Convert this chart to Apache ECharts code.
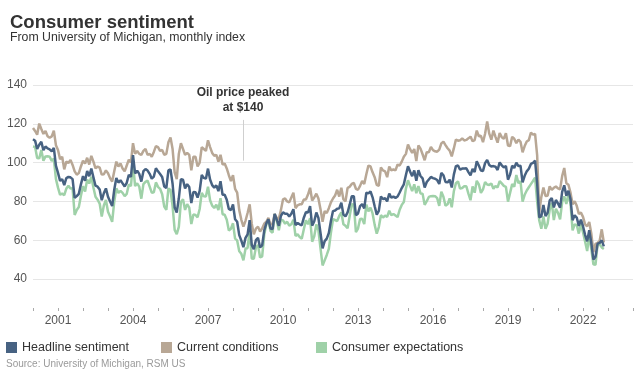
<!DOCTYPE html>
<html>
<head>
<meta charset="utf-8">
<title>Consumer sentiment</title>
<script src="https://cdn.jsdelivr.net/npm/echarts@6/dist/echarts.min.js"></script>
<style>
html, body { margin: 0; padding: 0; background: #fff; }
#chart { width: 639px; height: 377px; }
</style>
</head>
<body>
<div id="chart"></div>
<script>
// monthly index, Jan 2000 .. Nov 2022
const startYear = 2000
const labelYears = [2001, 2004, 2007, 2010, 2013, 2016, 2019, 2022]
const yTicks = [40, 60, 80, 100, 120, 140]
const seriesNames = ['Headline sentiment', 'Current conditions', 'Consumer expectations']

const headline = [
  112.0, 111.3, 107.1, 109.2, 110.7, 106.4, 108.3, 107.3, 106.8, 105.8, 107.6, 98.4,
  94.7, 90.6, 91.5, 88.4, 92.0, 92.6, 92.4, 91.5, 81.8, 82.7, 83.9, 88.8,
  93.0, 90.7, 95.7, 93.0, 96.9, 92.4, 88.1, 87.6, 86.1, 80.6, 84.2, 86.7,
  82.4, 79.9, 77.6, 86.0, 92.1, 89.7, 90.9, 89.3, 87.7, 89.6, 93.7, 92.6,
  103.8, 94.4, 95.8, 94.2, 90.2, 95.6, 96.7, 95.9, 94.2, 91.7, 92.8, 97.1,
  95.5, 94.1, 92.6, 87.7, 86.9, 96.0, 96.5, 89.1, 76.9, 74.2, 81.6, 91.5,
  91.2, 86.7, 88.9, 87.4, 79.1, 84.9, 84.7, 82.0, 85.4, 93.6, 92.1, 91.7,
  96.9, 91.3, 88.4, 87.1, 88.3, 85.3, 90.4, 83.4, 83.4, 80.9, 76.1, 75.5,
  78.4, 70.8, 69.5, 62.6, 59.8, 56.4, 61.2, 63.0, 70.3, 57.6, 55.3, 60.1,
  61.2, 56.3, 57.3, 65.1, 68.7, 70.8, 66.0, 65.7, 73.5, 70.6, 67.4, 72.5,
  74.4, 73.6, 73.6, 72.2, 73.6, 76.0, 67.8, 68.9, 68.2, 67.7, 71.6, 74.5,
  74.2, 77.5, 67.5, 69.8, 74.3, 71.5, 63.7, 55.8, 59.5, 60.8, 63.7, 69.9,
  75.0, 75.3, 76.2, 76.4, 79.3, 73.2, 72.3, 74.3, 78.3, 82.6, 82.7, 72.9,
  73.8, 77.6, 78.6, 76.4, 84.5, 84.1, 85.1, 82.1, 77.5, 73.2, 75.1, 82.5,
  81.2, 81.6, 80.0, 84.1, 81.9, 82.5, 81.8, 82.5, 84.6, 86.9, 88.8, 93.6,
  98.1, 95.4, 93.0, 95.9, 90.7, 96.1, 93.1, 91.9, 87.2, 90.0, 91.3, 92.6,
  92.0, 91.7, 91.0, 89.0, 94.7, 93.5, 90.0, 89.8, 91.2, 87.2, 93.8, 98.2,
  98.5, 96.3, 96.9, 97.0, 97.1, 95.1, 93.4, 96.8, 95.1, 100.7, 98.5, 95.9,
  95.7, 99.7, 101.4, 98.8, 98.0, 98.2, 97.9, 96.2, 100.1, 98.6, 97.5, 98.3,
  91.2, 93.8, 98.4, 97.2, 100.0, 98.2, 98.4, 89.8, 93.2, 95.5, 96.8, 99.3,
  99.8, 101.0, 89.1, 71.8, 72.3, 78.1, 72.5, 74.1, 80.4, 81.8, 76.9, 80.7,
  79.0, 76.8, 84.9, 88.3, 82.9, 85.5, 81.2, 70.3, 72.8, 71.7, 67.4, 70.6,
  67.2, 62.8, 59.4, 65.2, 58.4, 50.0, 51.5, 58.2, 58.6, 59.9, 56.8
]

const current = [
  117.8, 116.3, 114.4, 120.1, 117.3, 114.8, 116.3, 113.6, 112.8, 113.5, 116.4, 109.0,
  106.5, 101.8, 103.0, 96.5, 100.5, 99.8, 101.4, 98.8, 95.5, 93.8, 94.6, 98.0,
  101.0, 99.5, 102.5, 99.0, 103.5, 100.5, 97.0, 98.0, 97.4, 93.8, 94.0, 96.0,
  94.5, 92.0, 90.2, 95.5, 100.5, 98.0, 99.5, 97.0, 95.5, 98.5, 101.5, 100.0,
  110.0, 104.5, 106.0, 104.5, 104.0, 106.0, 107.0, 104.0, 104.5, 103.0, 105.5, 108.5,
  108.0, 106.0, 106.5, 104.0, 104.5, 110.5, 113.0, 107.0, 95.0, 91.5, 104.5, 110.0,
  107.0, 104.0, 105.0, 104.0, 96.0, 103.0, 103.0, 98.0, 100.0, 108.0, 107.0, 106.0,
  111.5, 108.0, 105.0, 103.5, 104.0, 100.5, 104.0, 99.0, 99.5, 97.0, 93.5, 90.5,
  93.5, 86.5, 84.5, 75.5, 70.5, 67.0, 70.0, 74.0, 78.5, 68.5, 63.0, 66.0,
  67.0, 64.5, 66.0, 68.5, 69.5, 71.5, 68.0, 68.5, 73.5, 71.5, 71.0, 75.5,
  81.0, 81.5, 80.0, 79.5, 82.0, 84.5, 76.5, 78.0, 78.5, 78.5, 81.0, 81.0,
  83.5, 87.0, 80.5, 82.0, 84.0, 81.5, 76.0, 69.5, 75.0, 74.0, 76.5, 79.5,
  81.5, 83.0, 86.0, 82.5, 87.0, 81.0, 80.0, 87.0, 87.5, 89.0, 89.5, 86.5,
  86.0, 88.0, 90.5, 89.0, 94.0, 98.5, 98.0, 95.0, 92.5, 88.5, 88.0, 97.5,
  96.0, 95.5, 92.5, 98.0, 96.0, 96.5, 96.0, 99.0, 98.5, 100.5, 103.0, 104.5,
  109.3, 106.9, 105.0, 107.0, 100.8, 108.9, 107.2, 104.3, 101.2, 105.4, 105.3, 108.1,
  106.4, 105.8, 105.6, 106.7, 109.9, 110.8, 109.0, 107.4, 106.2, 103.2, 107.3, 111.9,
  111.3, 111.5, 112.5, 111.4, 111.7, 112.5, 113.4, 111.0, 111.6, 116.5, 113.6, 113.8,
  110.5, 114.9, 121.2, 114.9, 111.8, 116.5, 113.3, 110.3, 115.2, 113.1, 112.3, 115.1,
  108.8, 108.5, 113.3, 112.3, 110.0, 111.9, 110.7, 105.3, 108.5, 110.9, 111.6, 115.5,
  114.4, 114.8, 103.7, 74.3, 82.3, 87.1, 82.8, 82.9, 87.8, 85.9, 87.0, 87.7,
  86.7, 86.2, 93.0, 97.2, 89.4, 88.6, 84.5, 78.5, 80.1, 77.7, 73.6, 74.2,
  72.0, 68.2, 67.2, 69.4, 63.3, 53.8, 58.1, 58.6, 59.7, 65.6, 58.8
]

const expectations = [
  108.3, 108.1, 102.4, 102.2, 106.5, 101.0, 103.2, 103.3, 103.0, 100.9, 102.0, 91.6,
  87.1, 83.4, 84.1, 83.2, 86.6, 88.0, 86.6, 86.8, 73.0, 75.6, 77.1, 82.9,
  87.9, 85.1, 91.3, 89.2, 92.7, 87.2, 82.4, 80.9, 78.9, 72.2, 77.9, 80.7,
  74.7, 72.2, 69.5, 79.9, 86.7, 84.4, 85.4, 84.4, 82.7, 83.9, 88.7, 87.9,
  99.8, 87.9, 89.3, 87.6, 81.4, 88.9, 90.1, 90.7, 87.6, 84.5, 84.7, 89.8,
  87.5, 86.5, 83.7, 77.3, 75.6, 86.7, 85.9, 77.6, 65.3, 63.1, 66.9, 79.7,
  81.1, 75.6, 78.6, 76.8, 68.3, 73.3, 73.0, 71.8, 76.1, 84.4, 82.6, 82.5,
  87.6, 80.6, 77.8, 76.6, 78.3, 75.6, 81.7, 73.4, 73.1, 70.6, 65.0, 65.9,
  68.7, 60.8, 59.9, 54.3, 53.0, 49.6, 55.6, 56.0, 65.1, 50.6, 50.4, 56.3,
  57.5, 51.1, 51.7, 62.9, 68.2, 70.4, 64.7, 63.9, 73.5, 70.0, 65.1, 70.6,
  70.2, 68.5, 69.5, 67.5, 68.2, 70.6, 62.2, 63.1, 61.6, 60.8, 65.6, 70.3,
  68.2, 71.4, 59.2, 62.0, 68.1, 65.1, 55.8, 47.0, 49.6, 52.4, 55.5, 63.8,
  70.8, 70.4, 69.9, 72.5, 74.4, 68.2, 67.4, 66.2, 72.4, 78.5, 78.3, 64.2,
  66.0, 70.9, 71.0, 68.3, 78.4, 74.9, 76.8, 73.8, 67.9, 63.4, 66.8, 72.9,
  71.7, 72.7, 72.0, 75.2, 72.9, 73.5, 72.7, 71.9, 75.7, 78.2, 79.7, 86.6,
  90.9, 88.0, 85.3, 88.8, 84.2, 87.9, 84.1, 84.0, 78.2, 80.1, 82.3, 82.7,
  82.8, 82.7, 81.7, 77.7, 85.0, 82.4, 77.8, 78.5, 81.6, 77.0, 85.2, 89.4,
  90.3, 86.6, 86.9, 87.8, 87.8, 84.0, 80.6, 87.7, 84.5, 90.6, 88.8, 84.4,
  86.2, 90.0, 88.7, 88.5, 89.2, 86.5, 88.0, 87.2, 90.4, 89.3, 88.0, 87.5,
  79.9, 84.4, 88.9, 87.5, 93.6, 89.4, 90.5, 79.9, 83.4, 85.6, 87.3, 88.9,
  90.5, 92.2, 79.8, 70.2, 65.9, 72.3, 65.9, 68.5, 75.7, 79.2, 70.4, 76.2,
  74.1, 70.8, 79.7, 82.6, 78.7, 83.5, 79.1, 65.1, 68.1, 67.9, 63.4, 68.3,
  64.1, 59.3, 54.4, 62.5, 55.3, 47.6, 47.3, 57.9, 57.9, 56.3, 55.5
]

// oil price peak marker (mid-2008)
const oilPeakDate = 2008.4
const oilNote = 'Oil price peaked\nat $140'

const font = '"Liberation Sans", Arial, sans-serif'
const colors = ['#476282', '#b8a795', '#9fd1a8']
const toPoints = vals => vals.map((v, i) => [startYear + i / 12, v])

const chart = echarts.init(document.getElementById('chart'))

// one legend per item so they sit at fixed columns like the original
const legendLefts = [6, 161, 316]
const legends = seriesNames.map((name, i) => ({
  left: legendLefts[i],
  top: 341,
  padding: 0,
  icon: 'rect',
  itemWidth: 11,
  itemHeight: 11,
  textStyle: { fontSize: 12.5, color: '#333', fontFamily: font },
  data: [name]
}))

const option = {
  animation: false,
  textStyle: { fontFamily: font },
  title: [
    {
      text: 'Consumer sentiment',
      left: 10,
      top: 13,
      padding: 0,
      textStyle: { fontSize: 18.5, fontWeight: 'bold', color: '#333', fontFamily: font }
    },
    {
      text: 'From University of Michigan, monthly index',
      left: 10,
      top: 32,
      padding: 0,
      textStyle: { fontSize: 12.3, fontWeight: 'normal', color: '#333', fontFamily: font }
    },
    {
      text: 'Source: University of Michigan, RSM US',
      left: 6,
      top: 359,
      padding: 0,
      textStyle: { fontSize: 10, fontWeight: 'normal', color: '#9a9a9a', fontFamily: font }
    }
  ],
  legend: legends,
  grid: {
    left: 33,
    right: 6,
    top: 85,
    bottom: 98,
    outerBoundsMode: 'none'
  },
  xAxis: {
    type: 'value',
    min: 2000,
    max: 2024,
    interval: 1,
    offset: 29,
    axisLine: { show: false },
    axisTick: { show: true, length: 3, lineStyle: { color: '#aaa' } },
    splitLine: { show: false },
    axisLabel: {
      margin: 7,
      fontSize: 12,
      color: '#555',
      formatter: v => labelYears.includes(v) ? String(v) : ''
    }
  },
  yAxis: {
    type: 'value',
    min: yTicks[0],
    max: yTicks[yTicks.length - 1],
    interval: 20,
    axisLine: { show: false },
    axisTick: { show: false },
    splitLine: { lineStyle: { color: '#e6e6e6', width: 1 } },
    axisLabel: { fontSize: 12, color: '#555', margin: 6 }
  },
  series: [
    {
      name: seriesNames[0],
      type: 'line',
      z: 4,
      showSymbol: false,
      color: colors[0],
      lineStyle: { width: 2.5, color: colors[0] },
      data: toPoints(headline),
      markLine: {
        silent: true,
        symbol: ['none', 'none'],
        lineStyle: { color: '#cfcfcf', width: 1, type: 'solid' },
        label: {
          show: true,
          position: 'start',
          formatter: oilNote,
          fontSize: 12,
          fontWeight: 'bold',
          color: '#333',
          lineHeight: 15,
          align: 'center',
          distance: 5,
          fontFamily: font
        },
        data: [[{ coord: [oilPeakDate, 122] }, { coord: [oilPeakDate, 101] }]]
      }
    },
    {
      name: seriesNames[1],
      type: 'line',
      z: 3,
      showSymbol: false,
      color: colors[1],
      lineStyle: { width: 2.5, color: colors[1] },
      data: toPoints(current)
    },
    {
      name: seriesNames[2],
      type: 'line',
      z: 2,
      showSymbol: false,
      color: colors[2],
      lineStyle: { width: 2.5, color: colors[2] },
      data: toPoints(expectations)
    }
  ]
}

chart.setOption(option)
</script>
</body>
</html>
